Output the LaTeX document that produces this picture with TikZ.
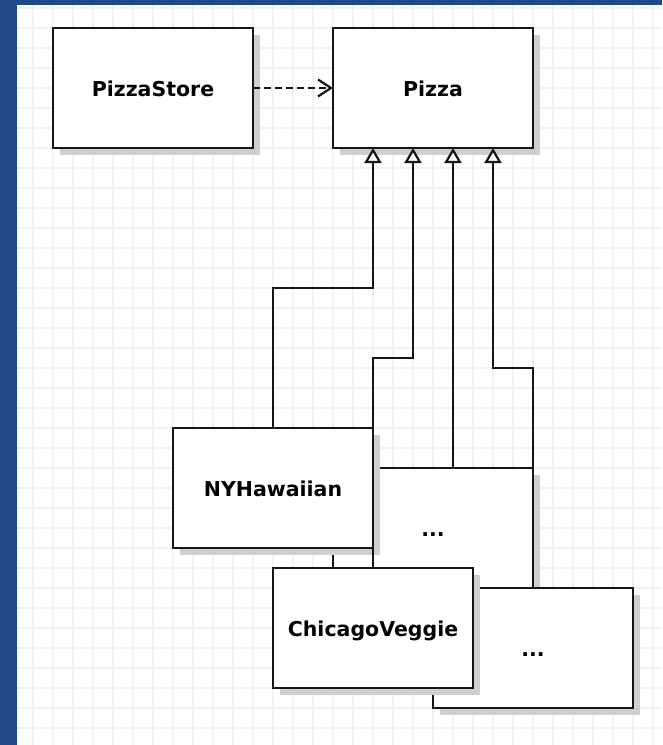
\documentclass[tikz,border=0pt]{standalone}
\usepackage{fontspec}
\setmainfont{DejaVu Sans}
\usepackage{tikz}
\usetikzlibrary{arrows.meta, positioning, shadows}
\definecolor{frameblue}{HTML}{1F4A87}
\definecolor{gridgray}{HTML}{F2F2F2}
\definecolor{shadowgray}{HTML}{CFCFCF}
\definecolor{linegray}{HTML}{151515}

\begin{document}
\begin{tikzpicture}[
        x=1pt, y=-1pt,
        font=\fontsize{20.5}{24}\selectfont\bfseries,
        classbox/.style={
            draw=linegray,
            fill=white,
            line width=2.2pt,
            minimum width=200pt,
            minimum height=120pt,
            inner sep=0pt,
            outer sep=0pt,
            text height=21pt,
            text depth=3.5pt,
            drop shadow={shadow xshift=7pt, shadow yshift=-7pt, fill=shadowgray, opacity=1}
        },
        gridline/.style={draw=gridgray, line width=1.6pt},
        depends/.style={-{Straight Barb[length=13pt, width=17pt]}, dash pattern=on 7pt off 4pt, line width=2.2pt, draw=linegray},
        inherits/.style={-{Triangle[length=15pt, width=17pt, fill=white]}, line width=2.2pt, draw=linegray}
    ]
        \useasboundingbox (0,0) rectangle (662,745);
        \fill[frameblue] (0,0) rectangle (662,745);
        \fill[white] (17,5) rectangle (662,745);
        \foreach \gx in {33,53,...,653} \draw[gridline] (\gx,5) -- (\gx,745);
        \foreach \gy in {8,28,...,728} \draw[gridline] (17,\gy) -- (662,\gy);

        \node[classbox] (store) at (153,88) {PizzaStore};
        \node[classbox] (pizza) at (433,88) {Pizza};

        \node[classbox] (moreone) at (433,528) {...};
        \node[classbox] (moretwo) at (533,648) {...};
        \node[classbox] (hawaiian) at (273,488) {NYHawaiian};
        \node[classbox] (veggie) at (373,628) {ChicagoVeggie};

        \draw[depends] (store.east) -- (pizza.west);
        \draw[inherits] (hawaiian.north) -- ++(0,-140) -| ([xshift=-60pt]pizza.south);
        \draw[inherits] (veggie.north) -- ++(0,-210) -| ([xshift=-20pt]pizza.south);
        \draw[inherits] ([xshift=20pt]moreone.north) -- ([xshift=20pt]pizza.south);
        \draw[inherits] (moretwo.north) -- ++(0,-220) -| ([xshift=60pt]pizza.south);
    \end{tikzpicture}
\end{document}
